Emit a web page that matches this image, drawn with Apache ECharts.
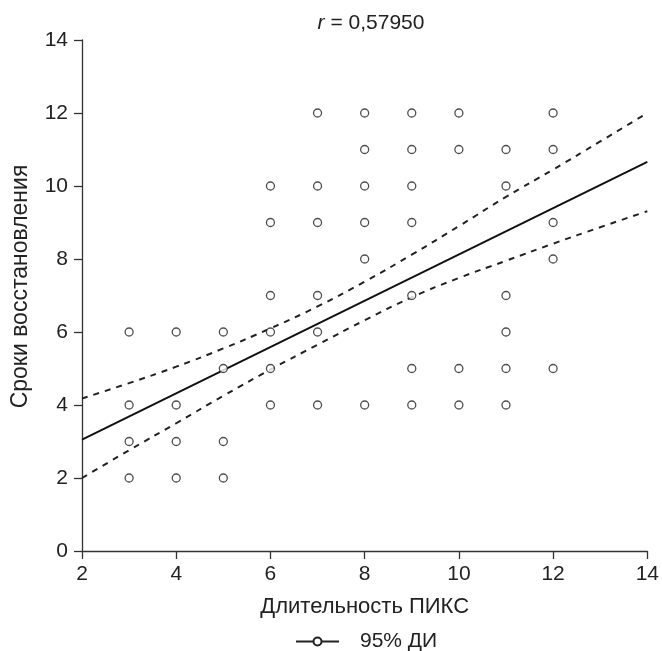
<!DOCTYPE html>
<html>
<head>
<meta charset="utf-8">
<script src="https://cdn.jsdelivr.net/npm/echarts@6/dist/echarts.min.js"></script>
<style>
  html, body { margin: 0; padding: 0; background: #fff; }
  #chart { width: 662px; height: 651px; }
</style>
</head>
<body>
<div id="chart"></div>
<script>
// точки: длительность ПИКС / сроки восстановления
const pointsX = [3,3,3,3, 4,4,4,4, 5,5,5,5, 6,6,6,6,6,6, 7,7,7,7,7,7, 8,8,8,8,8,8, 9,9,9,9,9,9,9, 10,10,10,10, 11,11,11,11,11,11, 12,12,12,12,12];
const pointsY = [6,4,3,2, 6,4,3,2, 6,5,3,2, 10,9,7,6,5,4, 12,10,9,7,6,4, 12,11,10,9,8,4, 12,11,10,9,7,5,4, 12,11,5,4, 11,10,7,6,5,4, 12,11,9,8,5];

// линия регрессии (концы)
const fitX = [2, 14];
const fitY = [3.05, 10.66];

// границы 95% ДИ
const ciX = [2, 3, 4, 5, 6, 7, 8, 9, 10, 11, 12, 13, 14];
const ciUpper = [4.18, 4.6, 5.05, 5.55, 6.1, 6.7, 7.38, 8.12, 8.9, 9.7, 10.45, 11.22, 12.0];
const ciLower = [2.0, 2.76, 3.5, 4.25, 4.97, 5.65, 6.32, 6.95, 7.48, 7.95, 8.42, 8.87, 9.31];

const xTicks = [2, 4, 6, 8, 10, 12, 14];
const yTicks = [0, 2, 4, 6, 8, 10, 12, 14];

const zip = (a, b) => a.map((v, i) => [v, b[i]]);

const chart = echarts.init(document.getElementById('chart'));
const font = 'Liberation Sans, Arial, sans-serif';
const ink = '#222';
const fs = 21;

chart.setOption({
    animation: false,
    textStyle: { fontFamily: font },
    title: {
        text: '{i|r} = 0,57950',
        left: 366,
        textAlign: 'center',
        top: 8,
        textStyle: {
            fontSize: 21, fontWeight: 'normal', color: ink,
            rich: { i: { fontStyle: 'italic', fontSize: 21, color: ink } }
        }
    },
    legend: {
        top: 626,
        left: 290,
        itemWidth: 43,
        itemHeight: 10,
        textStyle: { fontSize: fs, color: ink, padding: [0, 0, 0, 16] },
        data: ['95% ДИ']
    },
    grid: { left: 82, right: 14, top: 40, bottom: 100 },
    xAxis: {
        type: 'value',
        min: 2, max: 14, interval: 2,
        name: 'Длительность ПИКС',
        nameLocation: 'middle',
        nameGap: 45,
        nameTextStyle: { fontSize: 22, color: ink },
        axisLine: { onZero: false, lineStyle: { color: '#333', width: 1.3 } },
        axisTick: { length: 8, lineStyle: { color: '#333', width: 1.3 } },
        axisLabel: { fontSize: fs, color: ink, margin: 13,
                     formatter: v => xTicks.includes(v) ? String(v) : '' },
        splitLine: { show: false }
    },
    yAxis: {
        type: 'value',
        min: 0, max: 14, interval: 2,
        name: 'Сроки восстановления',
        nameLocation: 'middle',
        nameGap: 50,
        nameTextStyle: { fontSize: 23, color: ink, padding: [0, 0, 0, 18] },
        axisLine: { show: true, lineStyle: { color: '#333', width: 1.3 } },
        axisTick: { show: true, length: 8, lineStyle: { color: '#333', width: 1.3 } },
        axisLabel: { fontSize: fs, color: ink, margin: 14,
                     formatter: v => yTicks.includes(v) ? String(v) : '' },
        splitLine: { show: false }
    },
    series: [
        {
            name: 'Точки',
            type: 'scatter',
            data: zip(pointsX, pointsY),
            symbol: 'circle',
            symbolSize: 8,
            itemStyle: { color: '#fff', borderColor: ink, borderWidth: 1.3 },
            z: 5
        },
        {
            name: 'Регрессия',
            type: 'line',
            data: zip(fitX, fitY),
            showSymbol: false,
            lineStyle: { color: '#111', width: 2 }
        },
        {
            name: 'upper',
            type: 'line',
            data: zip(ciX, ciUpper),
            smooth: true,
            showSymbol: false,
            lineStyle: { color: '#222', width: 2, type: [6, 6] }
        },
        {
            name: 'lower',
            type: 'line',
            data: zip(ciX, ciLower),
            smooth: true,
            showSymbol: false,
            lineStyle: { color: '#222', width: 2, type: [6, 6] }
        },
        {
            // только для легенды
            name: '95% ДИ',
            type: 'line',
            data: [],
            symbol: 'circle',
            symbolSize: 9,
            itemStyle: { color: '#fff', borderColor: ink, borderWidth: 1.3 },
            lineStyle: { color: ink, width: 1.3 }
        }
    ]
});
</script>
</body>
</html>
